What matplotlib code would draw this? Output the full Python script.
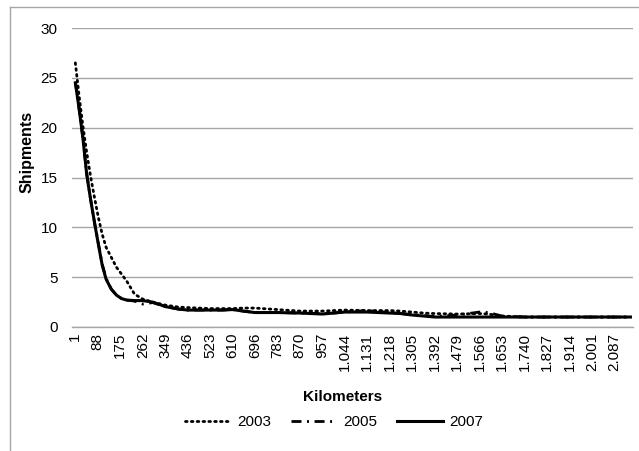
import matplotlib
matplotlib.use("Agg")
import matplotlib.pyplot as plt
from matplotlib.lines import Line2D

plt.rcParams['font.family'] = ['Liberation Sans', 'DejaVu Sans']

km = [1, 15, 30, 45, 60, 75, 90, 105, 120, 140, 160, 180, 200, 230, 262, 300,
      349, 400, 436, 480, 523, 570, 610, 650, 696, 783, 870, 957, 1000, 1044,
      1131, 1218, 1260, 1305, 1350, 1392, 1479, 1566, 1600, 1653, 1740, 1827,
      1914, 2001, 2087, 2150]

s2003 = [26.5, 23.3, 20.2, 17.5, 15.1, 13.0, 11.0, 9.3, 8.0, 7.0, 6.0, 5.3, 4.6,
         3.3, 2.8, 2.5, 2.2, 2.0, 1.95, 1.9, 1.85, 1.85, 1.85, 1.9, 1.9, 1.75,
         1.6, 1.6, 1.65, 1.7, 1.65, 1.65, 1.6, 1.5, 1.4, 1.35, 1.3, 1.35, 1.3,
         1.1, 1.0, 1.0, 1.0, 1.0, 1.0, 1.0]

s2005 = [24.6, 22.0, 19.0, 15.4, 12.8, 10.5, 8.4, 6.3, 4.9, 3.8, 3.2, 2.85, 2.7,
         2.6, 2.3, 2.45, 2.05, 1.8, 1.7, 1.7, 1.7, 1.7, 1.75, 1.6, 1.45, 1.45,
         1.4, 1.35, 1.4, 1.5, 1.65, 1.45, 1.35, 1.25, 1.15, 1.05, 1.2, 1.5, 1.45,
         1.1, 1.0, 1.0, 1.0, 1.0, 1.0, 1.0]

s2007 = [24.5, 22.0, 19.0, 15.3, 12.8, 10.5, 8.3, 6.2, 4.8, 3.8, 3.2, 2.85, 2.7,
         2.65, 2.65, 2.5, 2.05, 1.8, 1.7, 1.7, 1.7, 1.7, 1.75, 1.6, 1.45, 1.45,
         1.4, 1.3, 1.4, 1.5, 1.5, 1.4, 1.35, 1.2, 1.1, 1.0, 1.0, 1.0, 1.0,
         1.0, 1.0, 1.0, 1.0, 1.0, 1.0, 1.0]

tick_km = [1, 88, 175, 262, 349, 436, 523, 610, 696, 783, 870, 957, 1044, 1131,
           1218, 1305, 1392, 1479, 1566, 1653, 1740, 1827, 1914, 2001, 2087]
tick_labels = ['1', '88', '175', '262', '349', '436', '523', '610', '696', '783',
               '870', '957', '1.044', '1.131', '1.218', '1.305', '1.392', '1.479',
               '1.566', '1.653', '1.740', '1.827', '1.914', '2.001', '2.087']

DOT = (0, (0.6, 1.5))
DASHDOT = (0, (3.6, 2.0, 0.7, 2.0))

W, H = 639, 451
fig = plt.figure(figsize=(W / 100, H / 100), dpi=100)
ax = fig.add_axes([72 / W, 1 - 327 / H, (633 - 72) / W, (327 - 28) / H])

ax.plot(km, s2003, color='black', lw=2.0, linestyle=DOT, dash_capstyle='round', label='2003')
ax.plot(km, s2005, color='black', lw=2.0, linestyle=DASHDOT, label='2005')
ax.plot(km, s2007, color='black', lw=2.2, linestyle='-', label='2007')

ax.set_xlim(-12, 2160)
ax.set_ylim(0, 30)
ax.set_yticks([0, 5, 10, 15, 20, 25, 30])
ax.set_xticks(tick_km)
ax.set_xticklabels(tick_labels, rotation=90)
ax.tick_params(axis='both', length=0, labelsize=11, colors='black')
ax.tick_params(axis='x', pad=4)
ax.tick_params(axis='y', pad=10.5)
ax.yaxis.grid(True, color='#a6a6a6', lw=1.0)
ax.set_axisbelow(True)
for s in ['top', 'right', 'left']:
    ax.spines[s].set_visible(False)
ax.spines['bottom'].set_color('#a6a6a6')
ax.spines['bottom'].set_linewidth(1.0)

fig.text(343 / W, 1 - 397 / H, 'Kilometers', ha='center', va='center', fontsize=11, fontweight='bold')
fig.text(27 / W, 1 - 152 / H, 'Shipments', ha='center', va='center', fontsize=11.5, fontweight='bold', rotation=90)

handles = [Line2D([], [], color='black', lw=2.0, linestyle=DOT, dash_capstyle='round'),
           Line2D([], [], color='black', lw=2.0, linestyle=DASHDOT),
           Line2D([], [], color='black', lw=2.2)]
fig.legend(handles, ['2003', '2005', '2007'], loc='center', bbox_to_anchor=(334 / W, 1 - 422 / H),
           ncol=3, frameon=False, fontsize=11, handlelength=3.0, columnspacing=1.3, handletextpad=0.4)

# chart border (top and left visible)
fig.add_artist(Line2D([9.5 / W, 9.5 / W], [0, 1 - 6.5 / H], color='#a6a6a6', lw=1.0, transform=fig.transFigure))
fig.add_artist(Line2D([9.5 / W, 1], [1 - 6.5 / H, 1 - 6.5 / H], color='#a6a6a6', lw=1.0, transform=fig.transFigure))

fig.savefig('out.png', dpi=100)
